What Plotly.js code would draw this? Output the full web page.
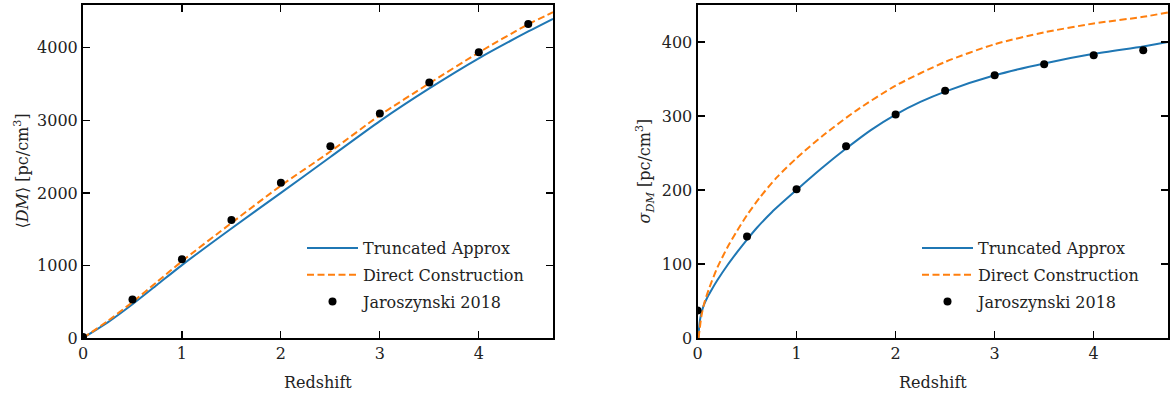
<!DOCTYPE html>
<html>
<head>
<meta charset="utf-8">
<script src="https://cdn.plot.ly/plotly-3.0.1.min.js"></script>
<style>html,body{margin:0;padding:0;background:#fff;}#chart{width:1171px;height:396px;}</style>
</head>
<body>
<div id="chart"></div>
<script>
// ---- Left panel: mean DM ----
const zCurveL = [0, 0.25, 0.5, 0.75, 1, 1.5, 2, 2.5, 3, 3.5, 4, 4.5, 4.75];
const dmTruncated = [0, 215, 465, 735, 1005, 1510, 2000, 2495, 2990, 3440, 3855, 4225, 4400];
const dmDirect = [0, 235, 495, 775, 1058, 1585, 2100, 2570, 3070, 3510, 3935, 4325, 4490];

const zObs = [0, 0.5, 1, 1.5, 2, 2.5, 3, 3.5, 4, 4.5];
const dmJaro = [15, 530, 1085, 1625, 2140, 2642, 3094, 3522, 3938, 4329];

// ---- Right panel: sigma DM ----
const zCurveRBlue = [0.01, 0.015, 0.03, 0.06, 0.1, 0.15, 0.2, 0.3, 0.4, 0.5, 0.6, 0.75, 1.0, 1.25, 1.5, 1.75, 2.0, 2.25, 2.5, 3.0, 3.5, 4.0, 4.5, 4.75];
const sigTruncated = [0, 12, 28, 43, 55, 67, 78, 98, 116, 133, 149, 170, 200, 229, 256, 281, 302, 319, 333, 355, 371, 384, 394, 400];
const zCurveROrange = [0.01, 0.02, 0.04, 0.07, 0.12, 0.2, 0.3, 0.4, 0.5, 0.63, 0.8, 1.0, 1.27, 1.61, 2.0, 2.5, 3.0, 3.5, 4.0, 4.5, 4.75];
const sigDirect = [0, 10, 30, 48, 68, 95, 122, 145, 166, 190, 217, 243, 274, 308, 341, 373, 397, 413, 425, 434, 440];

const sigJaro = [37, 137, 201, 259, 302, 334, 355, 370, 382, 389];

const xTicks = [0, 1, 2, 3, 4];
const xTitle = 'Redshift';
const yTitleLeft = '⟨<i>DM</i>⟩ [pc/cm<sup>3</sup>]';
const yTitleRight = '<i>σ<sub>DM</sub></i> [pc/cm<sup>3</sup>]';

const BLUE = '#1f77b4', ORANGE = '#ff7f0e';
const FONT = 'DejaVu Serif';

function curve(x, y, name, color, dash, xa, ya, leg) {
  return {x: x, y: y, name: name, type: 'scatter', mode: 'lines', legendgroup: leg + name,
    line: {color: color, width: 2, dash: dash, shape: 'spline', smoothing: 0.7},
    xaxis: xa, yaxis: ya, legend: leg};
}
function dots(x, y, xa, ya, leg) {
  return {x: x, y: y, name: 'Jaroszynski 2018', type: 'scatter', mode: 'markers', legendgroup: leg + 'J',
    marker: {color: 'black', size: 8}, xaxis: xa, yaxis: ya, legend: leg};
}

const data = [
  curve(zCurveL, dmTruncated, 'Truncated Approx', BLUE, 'solid', 'x', 'y', 'legend'),
  curve(zCurveL, dmDirect, 'Direct Construction', ORANGE, '7px,3.5px', 'x', 'y', 'legend'),
  dots(zObs, dmJaro, 'x', 'y', 'legend'),
  curve(zCurveRBlue, sigTruncated, 'Truncated Approx', BLUE, 'solid', 'x2', 'y2', 'legend2'),
  curve(zCurveROrange, sigDirect, 'Direct Construction', ORANGE, '7px,3.5px', 'x2', 'y2', 'legend2'),
  dots(zObs, sigJaro, 'x2', 'y2', 'legend2')
];

const W = 1171, H = 396;
const TF = {family: FONT, size: 16, color: '#222'};
function axBase() {
  return {showline: true, linewidth: 2, linecolor: 'black', mirror: 'allticks',
    ticks: 'inside', ticklen: 7, tickwidth: 1.2, tickcolor: 'black',
    showgrid: false, zeroline: false, tickfont: TF};
}
const ydom = [(H - 338) / H, (H - 5) / H];
const xdomL = [83 / W, 553 / W], xdomR = [697.5 / W, 1168 / W];

function titleAnn(text, x, y, angle) {
  return {text: text, xref: 'paper', yref: 'paper', x: x, y: y, xanchor: 'center', yanchor: 'middle',
    showarrow: false, textangle: angle, font: TF};
}

const layout = {
  width: W, height: H,
  margin: {l: 0, r: 0, t: 0, b: 0},
  paper_bgcolor: 'white', plot_bgcolor: 'white',
  font: TF,
  xaxis: Object.assign(axBase(), {domain: xdomL, range: [0, 4.75], tickvals: xTicks, anchor: 'y'}),
  yaxis: Object.assign(axBase(), {domain: ydom, range: [0, 4590], dtick: 1000, anchor: 'x'}),
  xaxis2: Object.assign(axBase(), {domain: xdomR, range: [0, 4.75], tickvals: xTicks, anchor: 'y2'}),
  yaxis2: Object.assign(axBase(), {domain: ydom, range: [0, 450], dtick: 100, anchor: 'x2'}),
  annotations: [
    titleAnn(xTitle, (xdomL[0] + xdomL[1]) / 2, (H - 382) / H, 0),
    titleAnn(xTitle, (xdomR[0] + xdomR[1]) / 2, (H - 382) / H, 0),
    titleAnn(yTitleLeft, 22 / W, (ydom[0] + ydom[1]) / 2, -90),
    titleAnn(yTitleRight, 645 / W, (ydom[0] + ydom[1]) / 2, -90)
  ],
  legend: {x: 302 / W, xanchor: 'left', y: (H - 231) / H, yanchor: 'top', bgcolor: 'rgba(0,0,0,0)',
    font: TF, itemwidth: 51, tracegroupgap: 3},
  legend2: {x: 917 / W, xanchor: 'left', y: (H - 231) / H, yanchor: 'top', bgcolor: 'rgba(0,0,0,0)',
    font: TF, itemwidth: 51, tracegroupgap: 3}
};

Plotly.newPlot('chart', data, layout, {staticPlot: true, displayModeBar: false});
</script>
</body>
</html>
